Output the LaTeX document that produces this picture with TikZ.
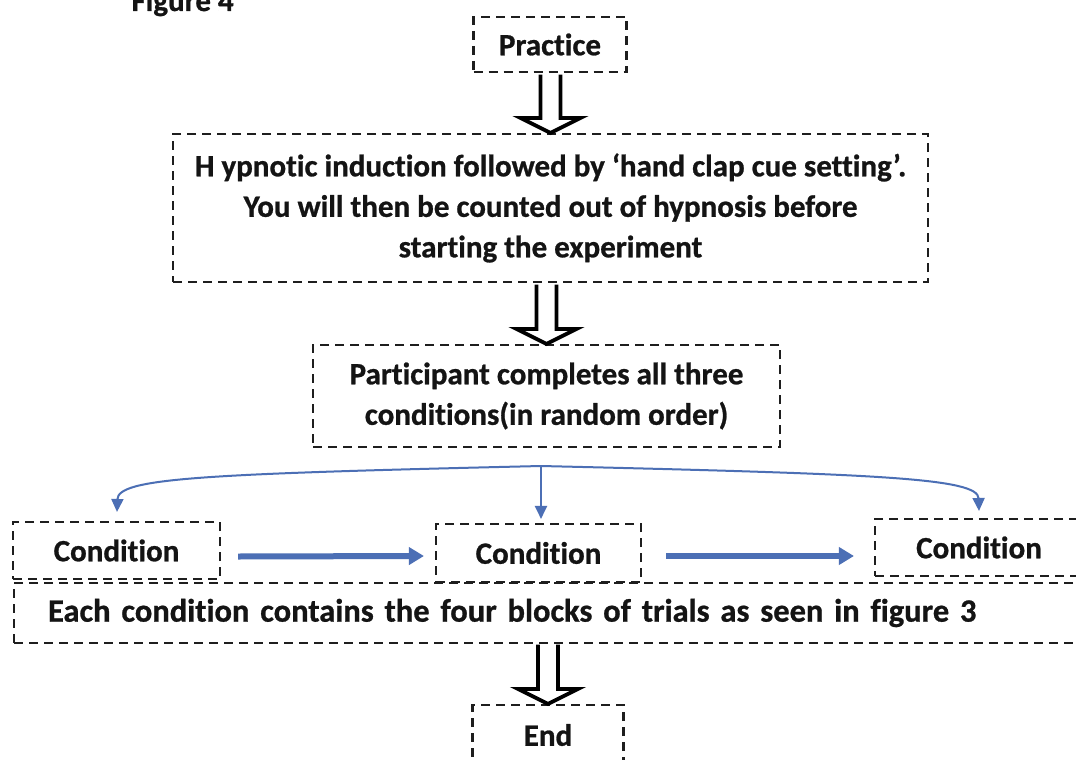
\documentclass[tikz,border=0pt]{standalone}
\usepackage{fontspec}
\setmainfont{Carlito}[Ligatures={NoCommon}, BoldFeatures={FakeBold=0.8}]
\usetikzlibrary{calc,arrows.meta}
\definecolor{arrblue}{HTML}{4C6FB5}
\definecolor{dashgray}{HTML}{1E1E1E}
\definecolor{txt}{HTML}{141414}
\newcommand\hollowarr[2]{%
  \filldraw[hollow] ($(#1.south -| #2.north)+(-10,1.5)$) -- ($(#2.north)+(-10,-15)$) -- ($(#2.north)+(-30,-15)$) -- (#2.north) -- ($(#2.north)+(30,-15)$) -- ($(#2.north)+(10,-15)$) -- ($(#1.south -| #2.north)+(10,1.5)$);}
\tikzset{
  dbox/.style={draw=dashgray, line width=2.1pt, dash pattern=on 9pt off 6pt, rectangle, inner sep=0pt, align=center, text=txt},
  hollow/.style={draw=black, fill=white, line width=3.8pt, line join=miter},
  thinarrow/.style={draw=arrblue, line width=2pt, -{Triangle[length=13pt,width=12pt]}},
  bigarrow/.style={draw=arrblue, line width=6pt, -{Triangle[length=15pt,width=17pt]}},
}
\begin{document}
\begin{tikzpicture}[x=1pt,y=-1pt, every node/.style={font=\fontsize{31}{40.5}\selectfont\bfseries}]
\useasboundingbox (0,0) rectangle (1076,760);
\fill[white] (0,0) rectangle (1076,760);
\node[anchor=base west, text=txt] (fig) at (128,11) {Figure 4};
\node[dbox, minimum width=153pt, minimum height=55pt] (prac) at (550,44.5) {Practice};
\node[dbox, minimum width=755pt, minimum height=148pt] (hyp) at (550.5,208) {H ypnotic induction followed by ‘hand clap cue setting’.\\You will then be counted out of hypnosis before\\starting the experiment};
\node[dbox, minimum width=467pt, minimum height=102pt] (part) at (546.5,396) {Participant completes all three\\conditions(in random order)};
\node[dbox, minimum width=207pt, minimum height=57pt] (c1) at (116.5,550.5) {Condition};
\node[dbox, minimum width=205pt, minimum height=58pt] (c2) at (538.5,553) {Condition};
\node[dbox, minimum width=208pt, minimum height=57pt] (c3) at (979,547.5) {Condition};
\node[dbox, anchor=west, minimum width=1077pt, minimum height=60pt, text width=1077pt, align=left, font=\fontsize{32.5}{40.5}\selectfont\bfseries] (each) at (13,613) {\hspace*{34pt}Each condition contains the four blocks of trials as seen in figure 3};
\coordinate (eachbot) at (548,643);
\node[dbox, minimum width=151pt, minimum height=60pt] (endn) at (548,735) {End};
\hollowarr{prac}{hyp}
\hollowarr{hyp}{part}
\filldraw[hollow] ($(eachbot)+(-10,1.5)$) -- ($(endn.north)+(-10,-15)$) -- ($(endn.north)+(-30,-15)$) -- (endn.north) -- ($(endn.north)+(30,-15)$) -- ($(endn.north)+(10,-15)$) -- ($(eachbot)+(10,1.5)$);
\coordinate (split) at (541,466);
\draw[thinarrow] (split) .. controls (200,474) and (118,478) .. ($(c1.north)+(0.5,-9)$);
\draw[thinarrow] (split) -- ($(split |- c2.north)+(0,-4)$);
\draw[thinarrow] (split) .. controls (880,474) and (978,478) .. ($(c3.north)+(0,-7)$);
\draw[bigarrow] ($(c1.east)+(17,6)$) -- ($(c2.west)+(-11,3)$);
\draw[bigarrow] ($(c2.east)+(24,3)$) -- ($(c3.west)+(-20,8.5)$);
\end{tikzpicture}
\end{document}
